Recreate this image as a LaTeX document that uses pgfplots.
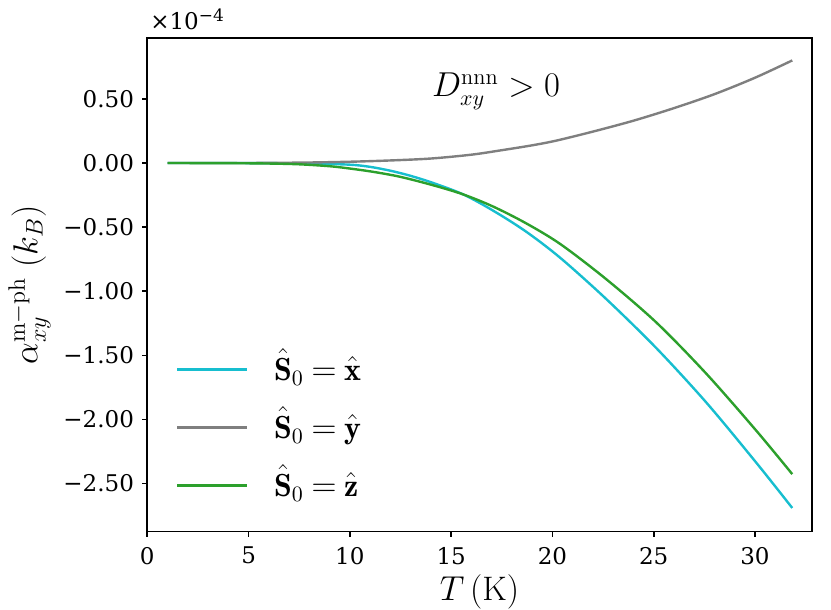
\documentclass[border=0pt]{standalone}
\usepackage{pgfplots}
\pgfplotsset{compat=1.18}
\usepackage{fontspec}
\newfontfamily\tickfont{DejaVu Serif}
\definecolor{tabcyan}{HTML}{17BECF}
\definecolor{tabgray}{HTML}{7F7F7F}
\definecolor{tabgreen}{HTML}{2CA02C}
\begin{document}
\begin{tikzpicture}
\path[use as bounding box] (-73.65pt,-39.15pt) rectangle (341.85pt,265.85pt);
\begin{axis}[
  width=332.2pt, height=246.85pt, scale only axis,
  xmin=0, xmax=32.8, ymin=-2.875, ymax=0.975,
  clip=false,
  axis line style={line width=0.8pt},
  tick style={line width=0.8pt, black},
  major tick length=2.5pt,
  tick align=outside,
  xtick pos=bottom, ytick pos=left,
  xtick={0,5,10,15,20,25,30},
  xticklabels={0,5,10,15,20,25,30},
  ytick={-2.5,-2,-1.5,-1,-0.5,0,0.5},
  yticklabels={−2.50,−2.00,−1.50,−1.00,−0.50,0.00,0.50},
  ticklabel style={font=\tickfont\fontsize{11.5}{13}\selectfont, inner sep=0pt},
  yticklabel style={anchor=east, xshift=-4pt},
  xticklabel style={anchor=north, yshift=-5pt},
  ylabel={$\alpha_{xy}^{\mathrm{m-ph}}\ (k_B)$},
  ylabel style={at={(rel axis cs:-0.1773,0.5)}, anchor=center, font=\fontsize{17}{20}\selectfont, inner sep=0pt},
  xlabel={$T\,(\mathrm{K})$},
  xlabel style={at={(rel axis cs:0.5,0)}, anchor=base, yshift=-34.5pt, font=\fontsize{17}{20}\selectfont, inner sep=0pt},
  legend cell align=left,
  legend image code/.code={\draw[#1] (0pt,0pt) -- (35pt,0pt);},
  legend style={draw=none, fill=none, inner sep=0pt, outer sep=0pt,
    at={(rel axis cs:0.0432,0.3836)}, anchor=north west,
    font=\fontsize{16}{19}\selectfont,
    nodes={inner sep=0pt, text height=19pt, text depth=8pt},
    row sep=2pt, column sep=12.85pt},
]
\addplot[tabcyan, line width=1.2pt, smooth] coordinates {
(1,0) (4,0) (6,-0.001) (8,-0.004) (10,-0.013) (11,-0.03) (12,-0.06) (13,-0.1)
(14.1,-0.155) (15.6,-0.245) (17.08,-0.372) (18.7,-0.535) (20.4,-0.741)
(22.68,-1.064) (25.14,-1.445) (27.61,-1.87) (30.08,-2.34) (31.84,-2.69)};
\addlegendentry{$\hat{\mathbf{S}}_0\mkern-1mu=\mkern-1mu\hat{\mathbf{x}}$}
\addplot[tabgray, line width=1.2pt, smooth] coordinates {
(1,0) (4,0) (6,0.001) (8,0.004) (10,0.01) (12,0.02) (14,0.035) (16,0.065)
(17.5,0.10) (19,0.138) (20.2,0.175) (22,0.245) (24,0.33) (26,0.428)
(28,0.537) (30,0.665) (31.84,0.80)};
\addlegendentry{$\hat{\mathbf{S}}_0\mkern-1mu=\mkern-1mu\hat{\mathbf{y}}$}
\addplot[tabgreen, line width=1.2pt, smooth] coordinates {
(1,0) (4,-0.001) (6,-0.004) (7.5,-0.01) (9,-0.025) (10,-0.043) (11.2,-0.07)
(12.5,-0.108) (14.1,-0.173) (15.6,-0.245) (17.08,-0.34) (18.7,-0.47)
(20.4,-0.633) (22.68,-0.909) (25.14,-1.245) (27.61,-1.645) (30.08,-2.09)
(31.84,-2.426)};
\addlegendentry{$\hat{\mathbf{S}}_0\mkern-1mu=\mkern-1mu\hat{\mathbf{z}}$}
\node[anchor=base west, font=\fontsize{16}{19}\selectfont, inner sep=0pt] at (axis cs:14.04,0.517) {$D_{xy}^{\mathrm{nnn}}>0$};
\node[anchor=base west, inner sep=0pt, xshift=1.3pt, yshift=4pt, font=\tickfont\fontsize{11.5}{13}\selectfont] at (rel axis cs:0,1) {×10\raisebox{4.2pt}{\fontsize{8.5}{10}\selectfont −4}};
\end{axis}
\end{tikzpicture}
\end{document}
